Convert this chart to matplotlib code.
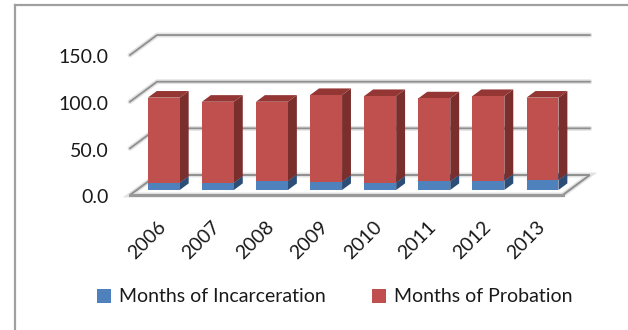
import matplotlib
matplotlib.use("Agg")
import matplotlib.pyplot as plt
from matplotlib.patches import Polygon, Patch
from matplotlib.lines import Line2D

plt.rcParams['font.family'] = ['Lato', 'DejaVu Sans']

# --- data ------------------------------------------------------------------
years = ["2006", "2007", "2008", "2009", "2010", "2011", "2012", "2013"]
incarceration = [7.8, 7.8, 9.6, 8.9, 7.8, 9.3, 10.0, 10.7]
probation = [91.2, 86.8, 85.0, 92.9, 92.9, 88.9, 90.7, 88.3]
yticks = [0, 50, 100, 150]
series_names = ["Months of Incarceration", "Months of Probation"]

# colours: front, side, top
blue = ("#4F81BD", "#2C4D75", "#3A6496")
red = ("#C0504D", "#7B2F2D", "#943634")

# --- layout (oblique 3d look) ---------------------------------------------
W, H = 628, 330
px_x0, px_cat = 130.0, 54.1       # floor front-left pixel, pixels per category
px_y0, px_unit = 195.0, 0.933     # floor front pixel row, pixels per value unit
DX = 27.0 / px_cat                # depth offset in category units
DY = 20.0 / px_unit               # depth offset in value units
n = len(years)
bar_w = 0.59
d0, d1 = 0.25, 0.58               # bar depth range (fraction of floor depth)
fs = 14

fig = plt.figure(figsize=(W / 100, H / 100), dpi=100)
ax = fig.add_axes([0, 0, 1, 1])
ax.set_xlim(-px_x0 / px_cat, (W - px_x0) / px_cat)
ax.set_ylim((px_y0 - H) / px_unit, px_y0 / px_unit)
ax.axis("off")

# chart frame
fig.add_artist(Line2D([15 / W, 15 / W], [0, 1 - 5 / H], color="#a0a0a0", lw=1.6))
fig.add_artist(Line2D([15 / W, 1], [1 - 5 / H, 1 - 5 / H], color="#a0a0a0", lw=1.6))

# walls: gridlines on back wall + short diagonals on the side wall
for v in yticks[1:]:
    xs = [0, DX, n + DX]
    ys = [v, v + DY, v + DY]
    ax.plot(xs, ys, color="#e2e2e2", lw=3.5, solid_capstyle="round", zorder=1)
    ax.plot(xs, ys, color="#8f8f8f", lw=1.3, zorder=2)
for v in yticks:
    ax.text(-0.4, v - 3, f"{v:.1f}", ha="right", va="center", fontsize=fs, color="#1a1a1a")

# floor
floor = [(0, 0), (n, 0), (n + DX, DY), (DX, DY)]
ax.add_patch(Polygon(floor, closed=True, fill=False, ec="#e2e2e2", lw=3.5, zorder=1))
ax.add_patch(Polygon(floor, closed=True, fill=False, ec="#8f8f8f", lw=1.4, zorder=2))
ax.plot([0, n], [0, 0], color="#999999", lw=2.2, zorder=2)


def draw_box(x0, yb, yt, cols, z):
    fx, fy = x0 + d0 * DX, yb + d0 * DY
    ty = yt + d0 * DY
    ddx, ddy = (d1 - d0) * DX, (d1 - d0) * DY
    front = [(fx, fy), (fx + bar_w, fy), (fx + bar_w, ty), (fx, ty)]
    side = [(fx + bar_w, fy), (fx + bar_w + ddx, fy + ddy),
            (fx + bar_w + ddx, ty + ddy), (fx + bar_w, ty)]
    top = [(fx, ty), (fx + ddx, ty + ddy), (fx + bar_w + ddx, ty + ddy), (fx + bar_w, ty)]
    ax.add_patch(Polygon(side, closed=True, fc=cols[1], ec="none", zorder=z))
    ax.add_patch(Polygon(top, closed=True, fc=cols[2], ec="none", zorder=z))
    ax.add_patch(Polygon(front, closed=True, fc=cols[0], ec="none", zorder=z + 0.1))


for i in range(n):
    x0 = i + 0.5 - bar_w / 2
    draw_box(x0, 0, incarceration[i], blue, 3 + i)
    draw_box(x0, incarceration[i], incarceration[i] + probation[i], red, 3.2 + i)
    ax.text(i + 0.5, -25, years[i], rotation=45, rotation_mode="anchor",
            ha="right", va="top", fontsize=fs, color="#1a1a1a")

handles = [Patch(fc=blue[0], ec="none"), Patch(fc=red[0], ec="none")]
fig.legend(handles, series_names, loc="center", bbox_to_anchor=(0.533, 0.1),
           ncol=2, frameon=False, fontsize=fs, handlelength=0.7, handleheight=0.7,
           handletextpad=0.4, columnspacing=2.4, labelcolor="#1a1a1a")

fig.savefig("out.png", dpi=100)
